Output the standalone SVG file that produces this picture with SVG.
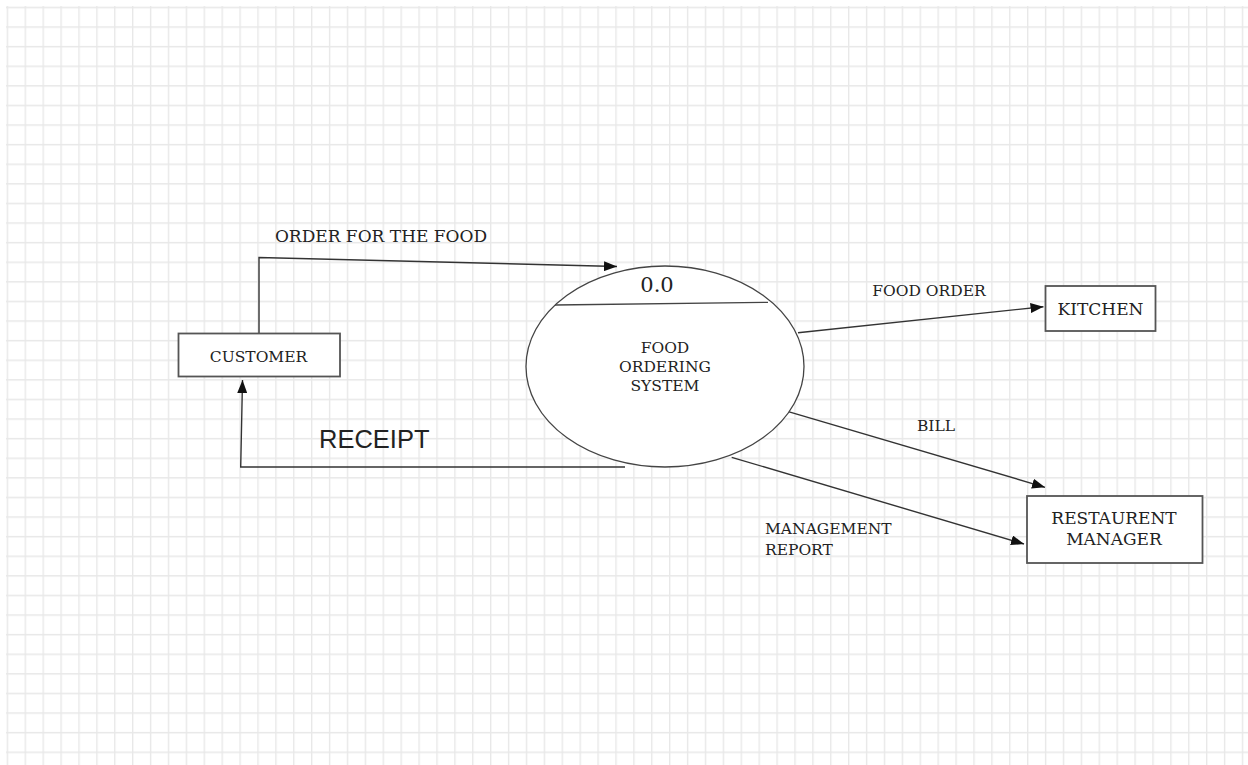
<svg xmlns="http://www.w3.org/2000/svg" width="1248" height="765" viewBox="0 0 1248 765">
<style>
.box{fill:#fff;stroke:#555;stroke-width:1.8}
.ell{fill:#fff;stroke:#444;stroke-width:1.3}
.ln{fill:none;stroke:#333;stroke-width:1.4}
.t{font-family:"DejaVu Serif","Liberation Serif",serif;fill:#222;text-anchor:middle}
.s{font-family:"Liberation Sans",Arial,sans-serif;fill:#222}
</style>
<defs>
<pattern id="grid" patternUnits="userSpaceOnUse" x="6.7" y="6.7" width="17.9" height="19.6">
<path d="M0.7 0V19.6M0 0.7H17.9" stroke="#e8e8e8" stroke-width="1.4" fill="none"/>
</pattern>
<marker id="arr" viewBox="0 0 13 10" refX="13" refY="5" markerWidth="13" markerHeight="10" markerUnits="userSpaceOnUse" orient="auto">
<path d="M0 0L13 5L0 10Z" fill="#111"/>
</marker>
</defs>
<rect width="1248" height="765" fill="#fff"/>
<rect x="6" y="6" width="1242" height="759" fill="url(#grid)"/>
<g id="connectors">
<polyline class="ln" points="259,333 259,257.5 617,266.5" marker-end="url(#arr)"/>
<polyline class="ln" points="625,467 240.7,467 242.5,380" marker-end="url(#arr)"/>
<line class="ln" x1="798" y1="332.7" x2="1043.5" y2="306.7" marker-end="url(#arr)"/>
<line class="ln" x1="788.3" y1="411.7" x2="1045" y2="487.3" marker-end="url(#arr)"/>
<line class="ln" x1="731.7" y1="457.3" x2="1024" y2="544" marker-end="url(#arr)"/>
<text class="t" x="381" y="241.7" font-size="17">ORDER FOR THE FOOD</text>
<text class="s" x="319" y="447.7" font-size="25.5">RECEIPT</text>
<text class="t" x="929" y="296" font-size="15.5">FOOD ORDER</text>
<text class="t" x="936" y="430.7" font-size="15.5">BILL</text>
<text class="t" x="765" y="534.3" font-size="15.5" style="text-anchor:start">MANAGEMENT</text>
<text class="t" x="765" y="555" font-size="15.5" style="text-anchor:start">REPORT</text>
</g>
<g id="customer">
<rect class="box" x="178.5" y="333.5" width="161.5" height="43"/>
<text class="t" x="258.5" y="361.5" font-size="15.5">CUSTOMER</text>
</g>
<g id="process">
<ellipse class="ell" cx="665" cy="366.5" rx="139" ry="100.5"/>
<line class="ln" x1="555" y1="305" x2="768" y2="302.3" style="stroke:#444;stroke-width:1.3"/>
<text class="t" x="657" y="291.7" font-size="21">0.0</text>
<text class="t" x="665" y="352.7" font-size="15.5">FOOD</text>
<text class="t" x="665" y="372.2" font-size="15.5">ORDERING</text>
<text class="t" x="665" y="390.7" font-size="15.5">SYSTEM</text>
</g>
<g id="kitchen">
<rect class="box" x="1045.5" y="286" width="110" height="45"/>
<text class="t" x="1100.5" y="315" font-size="17">KITCHEN</text>
</g>
<g id="manager">
<rect class="box" x="1027" y="496" width="175.5" height="67"/>
<text class="t" x="1114" y="524.3" font-size="17">RESTAURENT</text>
<text class="t" x="1114" y="545" font-size="17">MANAGER</text>
</g>
</svg>
